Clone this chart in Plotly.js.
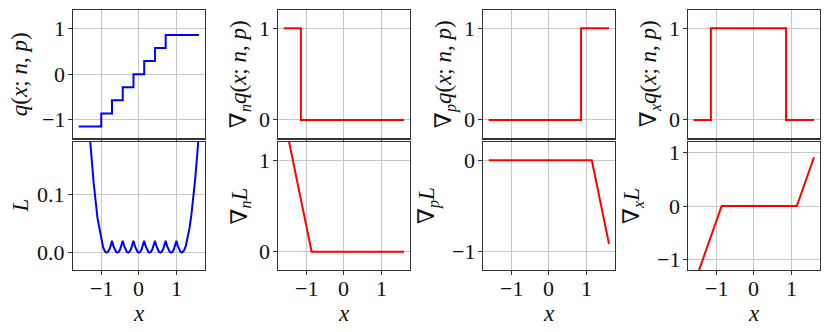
<!DOCTYPE html>
<html><head><meta charset="utf-8">
<script src="https://cdn.plot.ly/plotly-3.0.1.min.js"></script>
<style>html,body{margin:0;padding:0;background:#fff}#plot{width:830px;height:332px}</style>
</head><body><div id="plot"></div>
<script>
// quantizer output q(x; n, p) (step function)
const qX = [-1.6, -1.0, -0.714, -0.429, -0.143, 0.143, 0.429, 0.714, 1.6];
const qY = [-1.143, -0.857, -0.571, -0.286, 0, 0.286, 0.571, 0.857, 0.857];
// gradients of q
const gnqX = [-1.6, -1.143, 1.6];        const gnqY = [1, 0, 0];
const gpqX = [-1.6, 0.857, 1.6];         const gpqY = [0, 1, 1];
const gxqX = [-1.6, -1.143, 0.857, 1.6]; const gxqY = [0, 1, 0, 0];
// loss L
const LX = [-1.6, -1.5, -1.4, -1.35, -1.3, -1.2, -1.1, -1.0, -0.95, -0.9,
  -0.857, -0.821, -0.786, -0.750, -0.714, -0.679, -0.643, -0.607,
  -0.571, -0.536, -0.500, -0.464, -0.429, -0.393, -0.357, -0.321,
  -0.286, -0.250, -0.214, -0.179, -0.143, -0.107, -0.071, -0.036,
  0, 0.036, 0.071, 0.107, 0.143, 0.179, 0.214, 0.250,
  0.286, 0.321, 0.357, 0.393, 0.429, 0.464, 0.500, 0.536,
  0.571, 0.607, 0.643, 0.679, 0.714, 0.750, 0.786, 0.821,
  0.857, 0.893, 0.929, 0.964, 1.000, 1.036, 1.071, 1.107,
  1.143, 1.2, 1.25, 1.3, 1.35, 1.4, 1.45, 1.5, 1.55, 1.6];
const LY = [0.552, 0.413, 0.295, 0.243, 0.196, 0.118, 0.059, 0.0204, 0.0086, 0.0018,
  0, 0.0013, 0.0051, 0.0115, 0.0204, 0.0115, 0.0051, 0.0013,
  0, 0.0013, 0.0051, 0.0115, 0.0204, 0.0115, 0.0051, 0.0013,
  0, 0.0013, 0.0051, 0.0115, 0.0204, 0.0115, 0.0051, 0.0013,
  0, 0.0013, 0.0051, 0.0115, 0.0204, 0.0115, 0.0051, 0.0013,
  0, 0.0013, 0.0051, 0.0115, 0.0204, 0.0115, 0.0051, 0.0013,
  0, 0.0013, 0.0051, 0.0115, 0.0204, 0.0115, 0.0051, 0.0013,
  0, 0.0013, 0.0051, 0.0115, 0.0204, 0.0115, 0.0051, 0.0013,
  0, 0.0032, 0.0114, 0.0246, 0.0428, 0.066, 0.094, 0.127, 0.166, 0.209];
// gradients of L
const gnLX = [-1.6, -0.857, 1.6]; const gnLY = [1.486, 0, 0];
const gpLX = [-1.6, 1.143, 1.6];  const gpLY = [0, 0, -0.914];
const gxLX = [-1.6, -0.857, 1.143, 1.6]; const gxLY = [-1.486, 0, 0, 0.914];

const xTicks = [-1, 0, 1];
const titlesTop = [
  '<i>q</i>(<i>x</i>; <i>n</i>, <i>p</i>)',
  '∇<sub><i>n</i></sub><i>q</i>(<i>x</i>; <i>n</i>, <i>p</i>)',
  '∇<sub><i>p</i></sub><i>q</i>(<i>x</i>; <i>n</i>, <i>p</i>)',
  '∇<sub><i>x</i></sub><i>q</i>(<i>x</i>; <i>n</i>, <i>p</i>)'];
const titlesBot = ['<i>L</i>', '∇<sub><i>n</i></sub><i>L</i>', '∇<sub><i>p</i></sub><i>L</i>', '∇<sub><i>x</i></sub><i>L</i>'];
const xTitle = '<i>x</i>';

const FONT = '"Liberation Serif", "DejaVu Serif", serif';
const W = 830, H = 332;
const colL = [72.7, 277.7, 482.7, 687.7], colW = 132.3;
const topRow = [10, 138.3], botRow = [142, 270];
const titleXTop = [19, 240, 445, 650], titleXBot = [19.5, 240.5, 428, 633];
const xLabelY = 288.5, xTitleY = 313.5, yLabelGap = 6.5;

const traces = [];
const annotations = [];
const layout = {width: W, height: H, margin: {l: 0, r: 0, t: 0, b: 0},
  paper_bgcolor: '#fff', plot_bgcolor: '#fff', showlegend: false,
  font: {family: FONT, size: 20, color: '#000'}, annotations: annotations};

const series = [
  [qX, qY, '#0000ff', 'hv'], [gnqX, gnqY, '#ff0000', 'hv'], [gpqX, gpqY, '#ff0000', 'hv'], [gxqX, gxqY, '#ff0000', 'hv'],
  [LX, LY, '#0000ff', 'linear'], [gnLX, gnLY, '#ff0000', 'linear'], [gpLX, gpLY, '#ff0000', 'linear'], [gxLX, gxLY, '#ff0000', 'linear']];
const yRanges = [[-1.4, 1.4], [-0.2, 1.2], [-0.2, 1.2], [-0.2, 1.2],
  [-0.03, 0.19], [-0.2, 1.2], [-1.2, 0.2], [-1.2, 1.2]];
const yTicks = [[-1, 0, 1], [0, 1], [0, 1], [0, 1], [0, 0.1], [0, 1], [-1, 0], [-1, 0, 1]];

const fmt = (v, dec) => dec ? v.toFixed(1) : (v < 0 ? '−' + Math.abs(v) : String(v));
const lineStyle = {showline: true, mirror: true, linecolor: '#333333', linewidth: 1.2,
  showgrid: true, gridcolor: '#c8c8c8', gridwidth: 1, zeroline: false,
  ticks: 'outside', ticklen: 3.5, tickcolor: '#333333', tickwidth: 1, showticklabels: false};
const tickFont = {family: FONT, size: 22, color: '#111'};
const titleFont = {family: FONT, size: 23, color: '#111'};

for (let i = 0; i < 8; i++) {
  const s = series[i];
  const n = i + 1;
  const xa = 'x' + (n === 1 ? '' : n), ya = 'y' + (n === 1 ? '' : n);
  const xk = 'xaxis' + (n === 1 ? '' : n), yk = 'yaxis' + (n === 1 ? '' : n);
  traces.push({x: s[0], y: s[1], xaxis: xa, yaxis: ya, mode: 'lines',
    line: {color: s[2], width: 2, shape: s[3]}, hoverinfo: 'skip'});
  const col = i % 4, row = Math.floor(i / 4);
  const rr = row === 0 ? topRow : botRow;
  layout[xk] = Object.assign({}, lineStyle, {domain: [colL[col] / W, (colL[col] + colW) / W],
    anchor: ya, range: [-1.76, 1.76], tickvals: xTicks});
  layout[yk] = Object.assign({}, lineStyle, {domain: [1 - rr[1] / H, 1 - rr[0] / H],
    anchor: xa, range: yRanges[i], tickvals: yTicks[i]});

  // y tick labels
  yTicks[i].forEach(v => annotations.push({xref: 'paper', x: (colL[col] - yLabelGap) / W, xanchor: 'right',
    yref: ya, y: v, yanchor: 'middle', text: fmt(v, i === 4), showarrow: false, font: tickFont, borderpad: 0}));
  // y title
  annotations.push({xref: 'paper', x: (row === 0 ? titleXTop[col] : titleXBot[col]) / W, xanchor: 'center',
    yref: 'paper', y: 1 - (rr[0] + rr[1]) / 2 / H, yanchor: 'middle', textangle: -90,
    text: row === 0 ? titlesTop[col] : titlesBot[col], showarrow: false, font: titleFont, borderpad: 0});
  if (row === 1) {
    xTicks.forEach(v => annotations.push({xref: xa, x: v, xanchor: 'center', yref: 'paper', y: 1 - xLabelY / H,
      yanchor: 'middle', text: fmt(v, false), showarrow: false, font: tickFont, borderpad: 0}));
    annotations.push({xref: xa, x: 0, xanchor: 'center', yref: 'paper', y: 1 - xTitleY / H,
      yanchor: 'middle', text: xTitle, showarrow: false, font: titleFont, borderpad: 0});
  }
}
Plotly.newPlot('plot', traces, layout, {staticPlot: true, displayModeBar: false});
</script></body></html>
